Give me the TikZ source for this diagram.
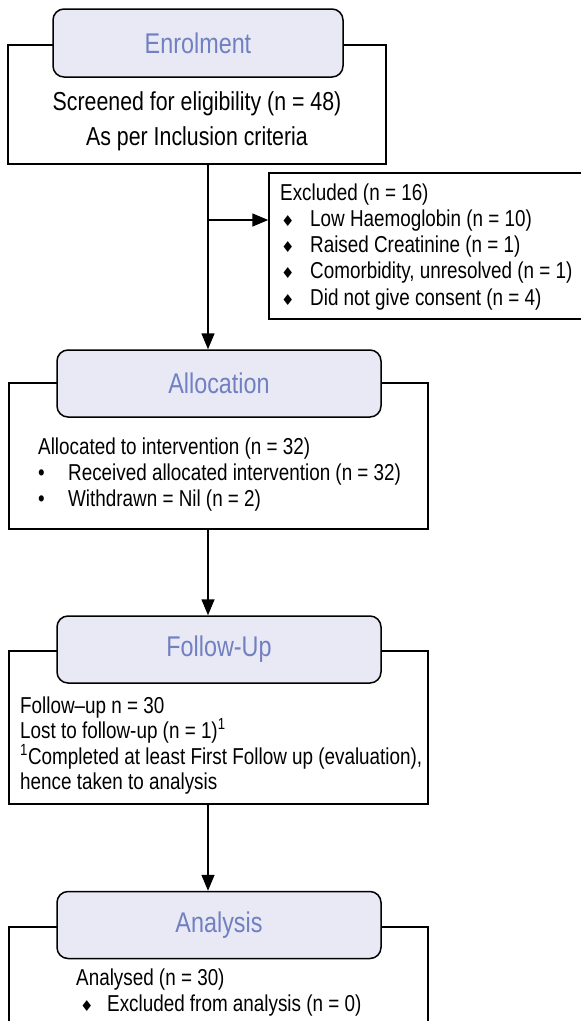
\documentclass[tikz,border=0pt]{standalone}
\usepackage{fontspec}
\setmainfont{Liberation Sans}[FakeStretch=0.82]
\newfontfamily\symfont{DejaVu Sans}
\usetikzlibrary{arrows.meta, positioning, calc}

\definecolor{hdrfill}{RGB}{233,233,246}
\definecolor{hdrtext}{RGB}{112,128,192}

\newcommand{\dia}{{\symfont\fontsize{15}{15}\selectfont ♦}}

\begin{document}
\begin{tikzpicture}[x=1pt, y=-1pt,
    outer/.style={rectangle, draw, line width=1.5pt, inner sep=0pt},
    header/.style={rectangle, draw, line width=1.5pt, fill=hdrfill, rounded corners=11pt, inner sep=0pt,
        minimum width=324pt, minimum height=67pt, text=hdrtext, font=\fontsize{28.5}{32}\selectfont},
    body/.style={inner sep=0pt, align=left, font=\fontsize{23}{26}\selectfont},
    arrow/.style={line width=1.5pt, -{Triangle[width=13pt, length=16pt]}}]

    \useasboundingbox (0,0) rectangle (581,1021);

    % boxes
    \node [outer, minimum width=378pt, minimum height=119pt] (enrolbox) at (197,104.5) {};
    \node [outer, minimum width=321pt, minimum height=146pt] (exclbox) at (429.5,246) {};
    \node [outer, minimum width=419pt, minimum height=146pt] (allocbox) at (218.5,456) {};
    \node [outer, minimum width=419pt, minimum height=153pt] (followbox) at (218.5,727.5) {};
    \node [outer, minimum width=419pt, minimum height=134pt] (analysisbox) at (218.5,994) {};

    % stage headers
    \node [header, minimum width=290pt, minimum height=68pt] (enrolhead) at (198,43) {Enrolment};
    \node [header] (allochead) at (219,383.5) {Allocation};
    \node [header] (followhead) at (219,649.5) {Follow-Up};
    \node [header] (analysishead) at (219,925) {Analysis};

    % box texts
    \node [body, align=center, anchor=north, font=\fontsize{26}{35}\selectfont] (enroltext) at (197,91)
        {Screened for eligibility (n = 48)\\As per Inclusion criteria};
    \node [body, anchor=north west, font=\fontsize{23}{26.3}\selectfont] (excltext) at (280,183.2)
        {Excluded (n = 16)\\
         \makebox[30pt][l]{\hspace{1pt}\dia}Low Haemoglobin (n = 10)\\
         \makebox[30pt][l]{\hspace{1pt}\dia}Raised Creatinine (n = 1)\\
         \makebox[30pt][l]{\hspace{1pt}\dia}Comorbidity, unresolved (n = 1)\\
         \makebox[30pt][l]{\hspace{1pt}\dia}Did not give consent (n = 4)};
    \node [body, anchor=north west] (alloctext) at (38,437.2)
        {Allocated to intervention (n = 32)\\
         \makebox[30pt][l]{•}Received allocated intervention (n = 32)\\
         \makebox[30pt][l]{•}Withdrawn = Nil (n = 2)};
    \node [body, anchor=north west, font=\fontsize{23}{25.5}\selectfont] (followtext) at (20,696.5)
        {Follow–up n = 30\\
         Lost to follow-up (n = 1)\textsuperscript{1}\\
         \textsuperscript{1}Completed at least First Follow up (evaluation),\\
         hence taken to analysis};
    \node [body, anchor=north west] (analysistext) at (76,968.2)
        {Analysed (n = 30)\\
         \makebox[31pt][l]{\hspace{4pt}\dia}Excluded from analysis (n = 0)};

    % flow
    \coordinate (spine) at (208,0);
    \coordinate (branch) at (208,220);
    \draw [arrow] (enrolbox.south -| spine) -- (allochead.north -| spine);
    \draw [arrow] (branch) -- (branch -| exclbox.west);
    \draw [arrow] (allocbox.south -| spine) -- (followhead.north -| spine);
    \draw [arrow] (followbox.south -| spine) -- (analysishead.north -| spine);
\end{tikzpicture}
\end{document}
